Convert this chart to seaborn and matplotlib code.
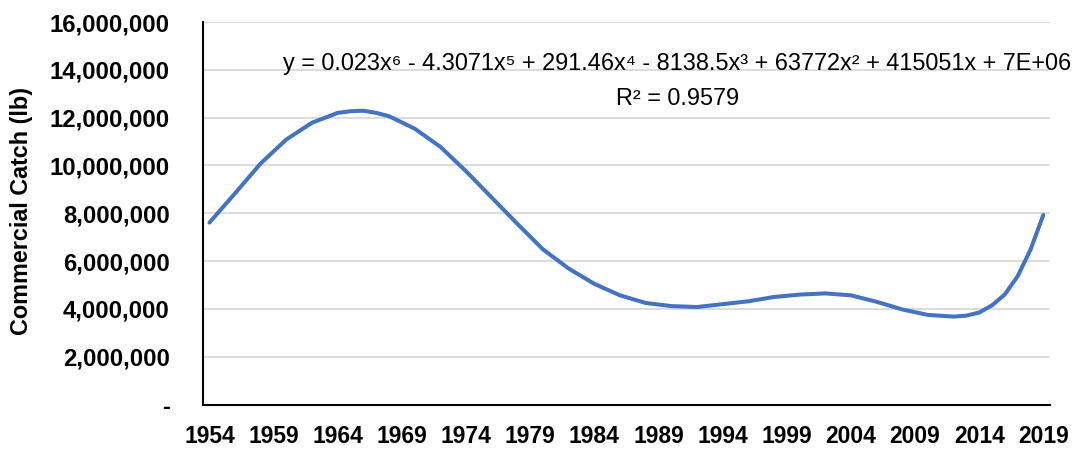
import matplotlib
matplotlib.use("Agg")
import matplotlib.pyplot as plt
from matplotlib.ticker import FuncFormatter
import seaborn as sns
import pandas as pd

# Polynomial trend of commercial catch, sampled along the fitted curve
years = [1954, 1956, 1958, 1960, 1962, 1964, 1965, 1966, 1967, 1968, 1970, 1972,
         1974, 1976, 1978, 1980, 1982, 1984, 1986, 1988, 1990, 1992,
         1994, 1996, 1998, 2000, 2002, 2004, 2006, 2008, 2010, 2012,
         2013, 2014, 2015, 2016, 2017, 2018, 2019]
catch_lb = [7.61e6, 8.84e6, 10.09e6, 11.09e6, 11.79e6, 12.20e6, 12.27e6, 12.29e6,
            12.20e6, 12.06e6, 11.54e6, 10.78e6, 9.76e6, 8.66e6, 7.56e6, 6.49e6,
            5.69e6, 5.05e6, 4.57e6, 4.25e6, 4.12e6, 4.08e6, 4.20e6, 4.32e6,
            4.50e6, 4.60e6, 4.65e6, 4.57e6, 4.30e6, 3.98e6, 3.75e6, 3.68e6,
            3.72e6, 3.85e6, 4.15e6, 4.61e6, 5.37e6, 6.48e6, 7.93e6]
tick_years = list(range(1954, 2020, 5))
y_ticks = list(range(0, 16_000_001, 2_000_000))
equation = "y = 0.023x⁶ - 4.3071x⁵ + 291.46x⁴ - 8138.5x³ + 63772x² + 415051x + 7E+06"
r_squared = "R² = 0.9579"

df = pd.DataFrame({"Year": years, "Catch": catch_lb})

sns.set_theme(style="white")
plt.rcParams["font.family"] = ["Liberation Sans", "DejaVu Sans"]
plt.rcParams.update({"text.color": "black", "axes.labelcolor": "black",
                     "xtick.color": "black", "ytick.color": "black"})

fig = plt.figure(figsize=(10.8, 4.51), dpi=100)
ax = fig.add_axes([0.188, 0.1029, 0.784, 0.8483])

sns.lineplot(data=df, x="Year", y="Catch", ax=ax, color="#4472C4",
             linewidth=2.9, solid_capstyle="round", solid_joinstyle="round")

ax.set_xlim(1953.5, 2019.5)
ax.set_ylim(0, 16_000_000)
ax.set_xticks(tick_years)
ax.set_yticks(y_ticks)
ax.yaxis.set_major_formatter(FuncFormatter(lambda v, p: "-" if v == 0 else f"{int(v):,}"))

ax.grid(axis="y", color="#d9d9d9", linewidth=1.3)
ax.grid(axis="x", visible=False)
ax.set_axisbelow(True)
for side in ("top", "right"):
    ax.spines[side].set_visible(False)
for side in ("left", "bottom"):
    ax.spines[side].set_color("black")
    ax.spines[side].set_linewidth(1.5)

ax.tick_params(axis="x", length=0, pad=15, labelsize=16.5, labelcolor="black")
ax.tick_params(axis="y", length=0, pad=24, labelsize=17.2, labelcolor="black")
for lbl in ax.get_xticklabels() + ax.get_yticklabels():
    lbl.set_fontweight("bold")

ax.set_xlabel("")
ax.set_ylabel("Commercial Catch (lb)", fontsize=16.8, fontweight="bold", color="black")
ax.yaxis.set_label_coords(-0.2007, 0.505)

ax.text(0.56, 0.892, equation, transform=ax.transAxes, ha="center", va="center",
        fontsize=16.9, color="black")
ax.text(0.56, 0.801, r_squared, transform=ax.transAxes, ha="center", va="center",
        fontsize=16.9, color="black")

fig.savefig("out.png", dpi=100)
